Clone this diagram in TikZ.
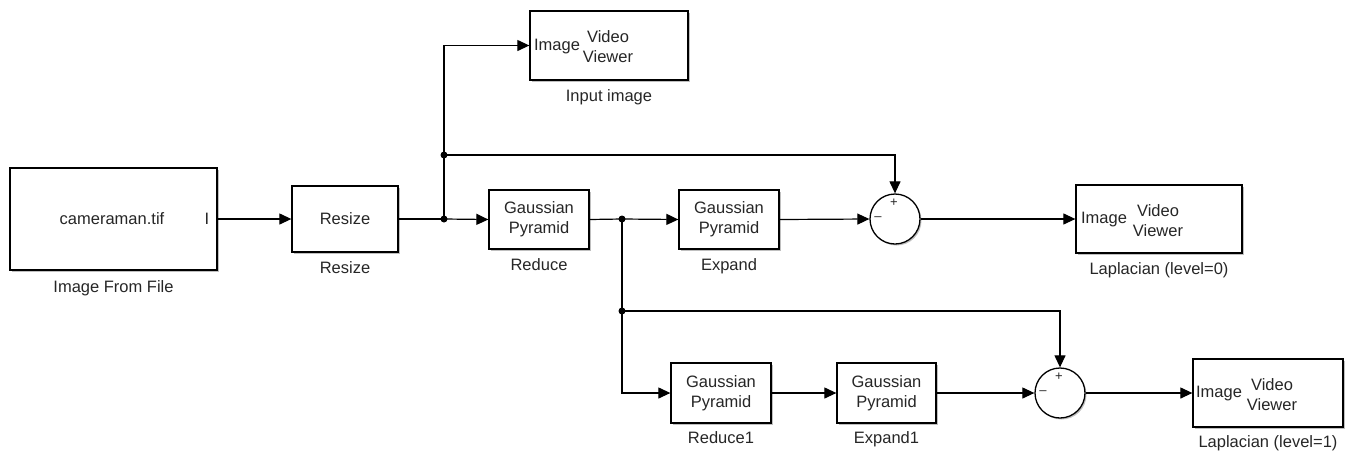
\documentclass[tikz,border=0pt]{standalone}
\usepackage{fontspec}
\setmainfont{Liberation Sans}
\usetikzlibrary{arrows.meta,shadows,positioning}
\begin{document}
\begin{tikzpicture}[x=1pt,y=-1pt,
  every node/.style={font=\fontsize{16.5}{20}\selectfont, text=black!85},
  blk/.style={draw=black, line width=1.3pt, fill=white, inner sep=0pt,
    drop shadow={shadow xshift=1.5pt, shadow yshift=-1.5pt, opacity=0.25, fill=black}},
  sumblk/.style={blk, circle, minimum size=50pt},
  lbl/.style={inner sep=1pt},
  wire/.style={draw=black, line width=1.2pt},
  arr/.style={wire, -{Triangle[length=12pt,width=11pt]}},
  dot/.style={circle, fill=black, inner sep=0pt, minimum size=7pt},
  sgn/.style={inner sep=0pt, font=\fontsize{13}{14}\selectfont}
]
\useasboundingbox (0,0) rectangle (1351,453);

% blocks
\node[blk, minimum width=207pt, minimum height=102pt] (img) at (113.5,219) {};
\node (imgtxt) at (112,219) {cameraman.tif};
\node (imgport) at (207,219) {I};
\node[lbl, below=9pt of img] (imglbl) {Image From File};

\node[blk, minimum width=106pt, minimum height=66pt, align=center] (resize) at (345,219) {Resize};
\node[lbl, below=8pt of resize] (resizelbl) {Resize};

\node[blk, minimum width=100pt, minimum height=59pt, align=center] (reduce) at (539,219.5) {Gaussian\\Pyramid};
\node[lbl, below=8pt of reduce] (reducelbl) {Reduce};

\node[blk, minimum width=100pt, minimum height=59pt, align=center] (expand) at (729,219.5) {Gaussian\\Pyramid};
\node[lbl, below=8pt of expand] (expandlbl) {Expand};

\node[sumblk] (sum0) at (895,219) {};
\node[sgn] (sum0p) at (894,203) {+};
\node[sgn] (sum0m) at (878,219) {\textendash};

\node[blk, minimum width=166pt, minimum height=68pt] (lap0) at (1159,219) {};
\node (lap0a) at (1104,220) {Image};
\node[align=center] (lap0b) at (1158,221) {Video\\Viewer};
\node[lbl, below=8pt of lap0] (lap0lbl) {Laplacian (level=0)};

\node[blk, minimum width=158pt, minimum height=69pt] (inview) at (609,45.5) {};
\node (inviewa) at (557,47) {Image};
\node[align=center] (inviewb) at (608,47) {Video\\Viewer};
\node[lbl, below=8pt of inview] (inviewlbl) {Input image};

\node[blk, minimum width=100pt, minimum height=60pt, align=center] (reduce1) at (721,393) {Gaussian\\Pyramid};
\node[lbl, below=7pt of reduce1] (reduce1lbl) {Reduce1};

\node[blk, minimum width=99pt, minimum height=60pt, align=center] (expand1) at (886.5,393) {Gaussian\\Pyramid};
\node[lbl, below=7pt of expand1] (expand1lbl) {Expand1};

\node[sumblk] (sum1) at (1060,393) {};
\node[sgn] (sum1p) at (1059,377) {+};
\node[sgn] (sum1m) at (1043,393) {\textendash};

\node[blk, minimum width=150pt, minimum height=68pt] (lap1) at (1268,393) {};
\node (lap1a) at (1219,394) {Image};
\node[align=center] (lap1b) at (1272,395) {Video\\Viewer};
\node[lbl, below=7pt of lap1] (lap1lbl) {Laplacian (level=1)};

% junctions
\node[dot] (j1) at (444,219) {};
\node[dot] (j2) at (444,155) {};
\node[dot] (j3) at (622,219) {};
\node[dot] (j4) at (622,311) {};

% connectors
\draw[arr] (img.east) -- (resize.west);
\draw[wire] (resize.east) -- (j1.center);
\draw[arr] (j1.center) -- (reduce.west);
\draw[arr] (j1.center) |- (inview.west);
\draw[arr] (j2.center) -| (sum0.north);
\draw[wire] (reduce.east) -- (j3.center);
\draw[arr] (j3.center) -- (expand.west);
\draw[arr] (expand.east) -- (sum0.west);
\draw[arr] (sum0.east) -- (lap0.west);
\draw[arr] (j3.center) |- (reduce1.west);
\draw[arr] (j4.center) -| (sum1.north);
\draw[arr] (reduce1.east) -- (expand1.west);
\draw[arr] (expand1.east) -- (sum1.west);
\draw[arr] (sum1.east) -- (lap1.west);
\end{tikzpicture}
\end{document}
